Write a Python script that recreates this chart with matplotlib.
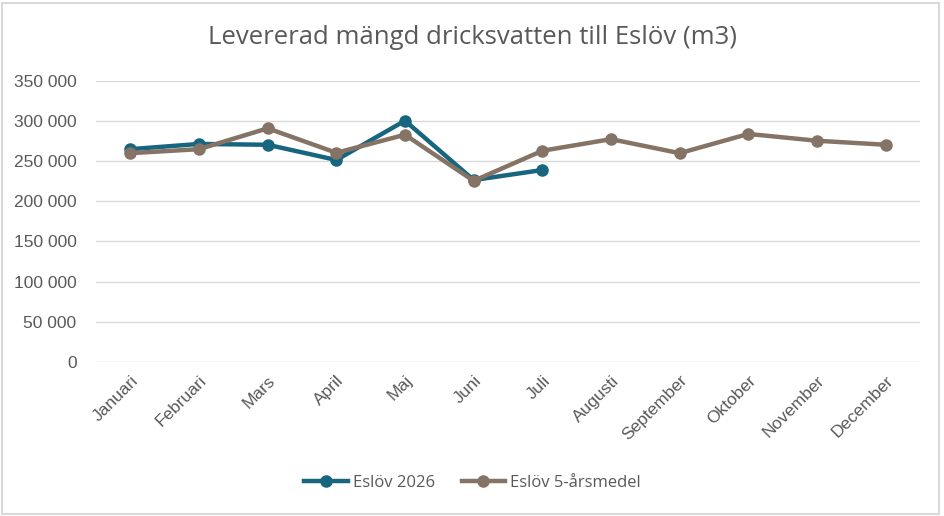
import matplotlib.pyplot as plt
from matplotlib.patches import Rectangle
from matplotlib.ticker import FuncFormatter

months = ['Januari', 'Februari', 'Mars', 'April', 'Maj', 'Juni', 'Juli',
          'Augusti', 'September', 'Oktober', 'November', 'December']
eslov_2026 = [265000, 271500, 270500, 251500, 300500, 226500, 239000]
eslov_5ar = [260000, 265000, 291000, 260500, 283000, 225500, 263000,
             277500, 260000, 284000, 275500, 270500]

TEAL = '#17657F'
BROWN = '#857465'
GRAY_TEXT = '#595959'

plt.rcParams['font.family'] = ['Liberation Sans', 'DejaVu Sans']

fig = plt.figure(figsize=(9.45, 5.16), dpi=100)
ax = fig.add_axes([96 / 945, 1 - 361.7 / 516, 824 / 945, 280.7 / 516])

x = list(range(len(months)))
ax.plot(x[:len(eslov_2026)], eslov_2026, color=TEAL, lw=3.2, marker='o',
        ms=8, label='Eslöv 2026', zorder=3)
ax.plot(x, eslov_5ar, color=BROWN, lw=3.2, marker='o', ms=8,
        label='Eslöv 5-årsmedel', zorder=4)

ax.set_xlim(-0.5, len(months) - 0.5)
ax.set_ylim(0, 350000)
ax.set_yticks(range(0, 350001, 50000))
ax.yaxis.set_major_formatter(FuncFormatter(lambda v, p: f'{int(v):,}'.replace(',', ' ')))
ax.set_xticks(x)
ax.set_xticklabels(months, rotation=45, ha='right', va='top',
                   rotation_mode='anchor')

ax.grid(axis='y', color='#D9D9D9', lw=1)
ax.set_axisbelow(True)
for s in ax.spines.values():
    s.set_visible(False)
ax.tick_params(axis='both', length=0, labelsize=12.5, colors=GRAY_TEXT)
ax.tick_params(axis='y', pad=14)
ax.tick_params(axis='x', pad=8)

fig.text(0.5, 1 - 37 / 516, 'Levererad mängd dricksvatten till Eslöv (m3)',
         ha='center', va='center', fontsize=18.5, color=GRAY_TEXT,
         family=['Open Sans', 'DejaVu Sans'])

leg = fig.legend(loc='center', bbox_to_anchor=(0.5, 1 - 483 / 516), ncol=2,
                 frameon=False, handlelength=2.6,
                 columnspacing=1.6, handletextpad=0.3,
                 prop={'family': ['Open Sans', 'DejaVu Sans'], 'size': 12})
for t in leg.get_texts():
    t.set_color(GRAY_TEXT)

fig.patches.append(Rectangle((2 / 945, 2 / 516), 937 / 945, 511 / 516,
                             transform=fig.transFigure, fill=False,
                             edgecolor='#D9D9D9', lw=1.5))

fig.savefig('out.png', dpi=100)
